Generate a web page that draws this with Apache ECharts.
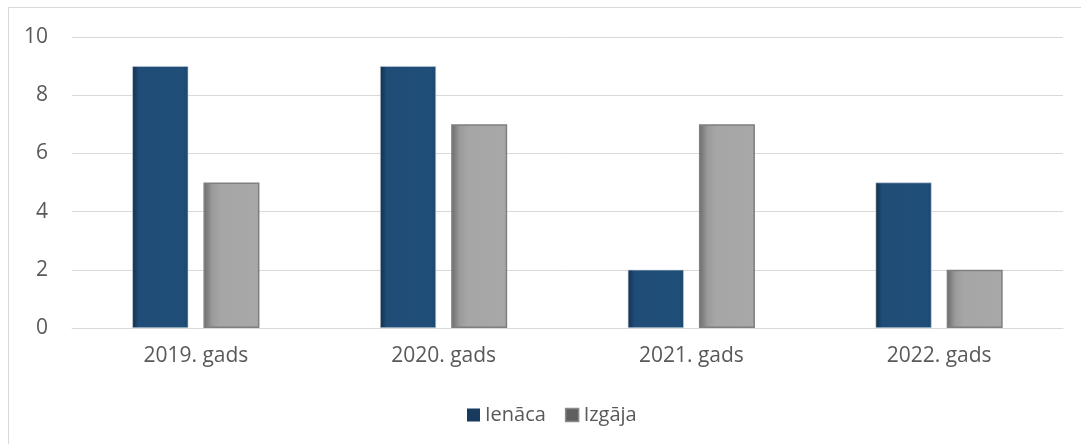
<!DOCTYPE html>
<html>
<head>
<meta charset="utf-8">
<script src="https://cdn.jsdelivr.net/npm/echarts@6/dist/echarts.min.js"></script>
<style>
html,body{margin:0;padding:0;background:#fff;}
#chart{width:1081px;height:444px;}
</style>
</head>
<body>
<div id="chart"></div>
<script>
const categories = ['2019. gads', '2020. gads', '2021. gads', '2022. gads'];
const ienaca = [9, 9, 2, 5];
const izgaja = [5, 7, 7, 2];
const seriesNames = ['Ienāca', 'Izgāja'];

const chart = echarts.init(document.getElementById('chart'));
const font = '"Open Sans", "Noto Sans", sans-serif';

const blueFill = new echarts.graphic.LinearGradient(0, 0, 1, 0, [
  {offset: 0, color: '#132f4b'},
  {offset: 0.12, color: '#1f4d77'},
  {offset: 0.9, color: '#1f4e79'},
  {offset: 1, color: '#1c4870'}
]);
const greyFill = new echarts.graphic.LinearGradient(0, 0, 1, 0, [
  {offset: 0, color: '#6a6a6a'},
  {offset: 0.15, color: '#9a9a9a'},
  {offset: 0.3, color: '#a6a6a6'},
  {offset: 1, color: '#a8a8a8'}
]);

chart.setOption({
  animation: false,
  textStyle: {fontFamily: font},
  graphic: [{
    type: 'rect',
    shape: {x: 8.5, y: 7.5, width: 1100, height: 460},
    style: {fill: 'none', stroke: '#d9d9d9', lineWidth: 1},
    silent: true,
    z: -1
  }],
  grid: {left: 72, right: 18, top: 37, bottom: 116, containLabel: false},
  legend: {
    top: 400,
    left: 462,
    itemWidth: 13,
    itemHeight: 13,
    itemGap: 19,
    icon: 'rect',
    textStyle: {fontSize: 20, color: '#595959', fontFamily: font, padding: [0, 0, 0, 0]},
    data: [
      {name: seriesNames[0], itemStyle: {color: '#173a5e', borderWidth: 0}},
      {name: seriesNames[1], itemStyle: {color: '#5f5f5f', borderColor: '#8a8a8a', borderWidth: 1.5}}
    ]
  },
  xAxis: {
    type: 'category',
    data: categories,
    axisLine: {show: true, lineStyle: {color: '#d9d9d9', width: 1}},
    axisTick: {show: false},
    axisLabel: {fontSize: 21, color: '#595959', margin: 18, fontFamily: font}
  },
  yAxis: {
    type: 'value',
    min: 0,
    max: 10,
    interval: 2,
    axisLine: {show: false},
    axisTick: {show: false},
    axisLabel: {fontSize: 21, color: '#595959', margin: 24, fontFamily: font},
    splitLine: {lineStyle: {color: '#d9d9d9', width: 1}}
  },
  series: [
    {
      name: seriesNames[0],
      type: 'bar',
      data: ienaca,
      barWidth: 56,
      barGap: '27%',
      itemStyle: {color: blueFill, borderColor: '#c9d3de', borderWidth: 0.6}
    },
    {
      name: seriesNames[1],
      type: 'bar',
      data: izgaja,
      barWidth: 56,
      itemStyle: {color: greyFill, borderColor: '#7f7f7f', borderWidth: 1.5}
    }
  ]
});
</script>
</body>
</html>
